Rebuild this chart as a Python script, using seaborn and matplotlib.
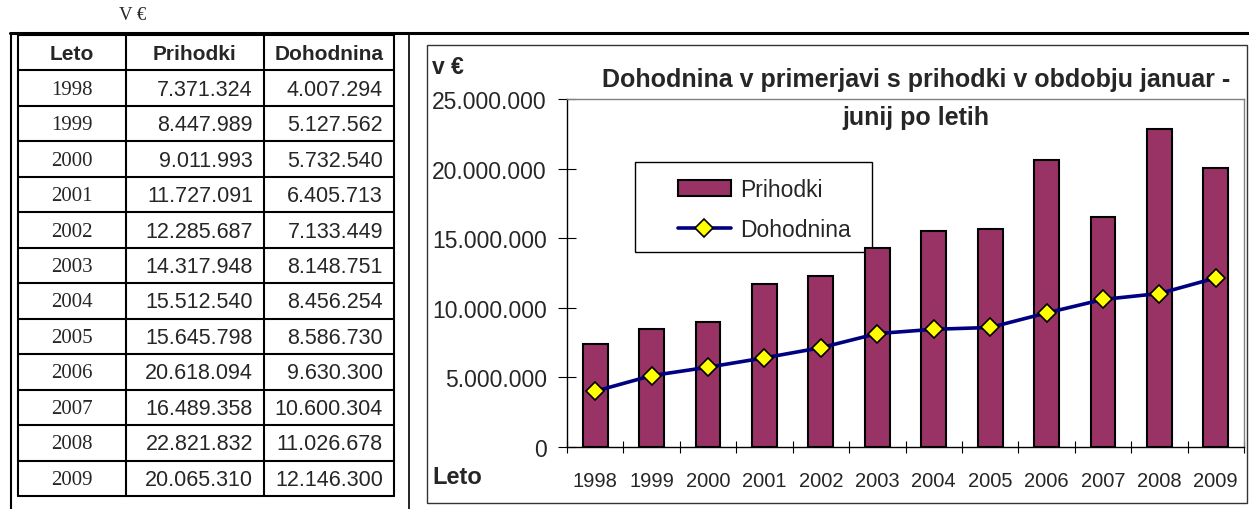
import matplotlib
matplotlib.use("Agg")
import matplotlib.pyplot as plt
from matplotlib.patches import Rectangle
from matplotlib.ticker import FuncFormatter, FixedLocator
import seaborn as sns
import numpy as np

years = ["1998", "1999", "2000", "2001", "2002", "2003",
         "2004", "2005", "2006", "2007", "2008", "2009"]
prihodki = [7371324, 8447989, 9011993, 11727091, 12285687, 14317948,
            15512540, 15645798, 20618094, 16489358, 22821832, 20065310]
dohodnina = [4007294, 5127562, 5732540, 6405713, 7133449, 8148751,
             8456254, 8586730, 9630300, 10600304, 11026678, 12146300]
y_ticks = [0, 5000000, 10000000, 15000000, 20000000, 25000000]
headers = ["Leto", "Prihodki", "Dohodnina"]

bar_color = "#993366"
line_color = "#000080"


def fmt(v):
    return f"{int(v):,}".replace(",", ".")


sns.set_theme(style="white")
plt.rcParams["font.family"] = ["Liberation Sans", "DejaVu Sans"]
serif = ["Liberation Serif", "DejaVu Serif"]

W, H = 1249, 510
fig = plt.figure(figsize=(W / 100, H / 100), dpi=100)

# pixel-coordinate overlay for frames and the table
bg = fig.add_axes([0, 0, 1, 1])
bg.set_xlim(0, W)
bg.set_ylim(H, 0)
bg.axis("off")

# outer frame lines
bg.plot([10, W], [34, 34], color="black", lw=2.2)
bg.plot([11, 11], [34, H], color="black", lw=1.5)
bg.plot([409, 409], [34, H], color="black", lw=1.2)
bg.text(133, 15, "V €", family=serif, fontsize=13.5, ha="center", va="center")

# table
col_x = [18, 126, 264, 394]
row_y = np.linspace(36, 497, len(years) + 2)
for x in col_x:
    bg.plot([x, x], [row_y[0], row_y[-1]], color="black", lw=1.5)
for y in row_y:
    bg.plot([col_x[0], col_x[-1]], [y, y], color="black", lw=1.5)
for j, h in enumerate(headers):
    bg.text((col_x[j] + col_x[j + 1]) / 2, (row_y[0] + row_y[1]) / 2 + 1, h,
            fontsize=15, fontweight="bold", ha="center", va="center")
for i, yr in enumerate(years):
    cy = (row_y[i + 1] + row_y[i + 2]) / 2 + 1
    bg.text((col_x[0] + col_x[1]) / 2, cy, yr, family=serif, fontsize=15,
            ha="center", va="center")
    bg.text(col_x[2] - 11, cy, fmt(prihodki[i]), fontsize=15.5,
            ha="right", va="center")
    bg.text(col_x[3] - 11, cy, fmt(dohodnina[i]), fontsize=15.5,
            ha="right", va="center")

# chart box
bg.add_patch(Rectangle((427, 46), 1247 - 427, 504 - 46, fill=False,
                       edgecolor="#333333", lw=1))

# chart
ax = fig.add_axes([567 / W, (H - 448) / H, (1244 - 567) / W, (448 - 100) / H])
sns.barplot(x=years, y=prihodki, color=bar_color, saturation=1, width=0.44,
            edgecolor="black", linewidth=1.5, label="Prihodki", ax=ax)
sns.lineplot(x=np.arange(len(years)), y=dohodnina, color=line_color,
             linewidth=2.6, marker="D", markersize=9.5,
             markerfacecolor="#FFFF00", markeredgecolor="black",
             markeredgewidth=1.2, label="Dohodnina", ax=ax)

ax.set_xlim(-0.5, len(years) - 0.5)
ax.set_ylim(0, 25000000)
ax.yaxis.set_major_locator(FixedLocator(y_ticks))
ax.yaxis.set_major_formatter(FuncFormatter(lambda v, p: fmt(v)))
ax.xaxis.set_minor_locator(FixedLocator(np.arange(len(years) + 1) - 0.5))
ax.tick_params(axis="y", which="major", direction="inout", length=13,
               width=0.8, color="black", pad=8, labelsize=16.5, left=True)
ax.tick_params(axis="x", which="major", length=0, pad=17, labelsize=14.5)
ax.tick_params(axis="x", which="minor", direction="inout", length=8.5,
               width=0.8, color="black", bottom=True)
ax.set_xlabel("")
ax.set_ylabel("")
for s in ["left", "bottom"]:
    ax.spines[s].set_color("black")
    ax.spines[s].set_linewidth(1)
for s in ["top", "right"]:
    ax.spines[s].set_color("#808080")
    ax.spines[s].set_linewidth(1)

# title and axis captions
bg.text(916, 80, "Dohodnina v primerjavi s prihodki v obdobju januar -",
        fontsize=18, fontweight="bold", ha="center", va="center")
bg.text(916, 118, "junij po letih", fontsize=18, fontweight="bold",
        ha="center", va="center")
bg.text(432, 68, "v €", fontsize=16.5, fontweight="bold", ha="left", va="center")
bg.text(432, 478, "Leto", fontsize=17, fontweight="bold", ha="left", va="center")

# legend with square frame
bg.add_patch(Rectangle((635, 163), 872 - 635, 253 - 163, facecolor="white",
                       edgecolor="black", lw=1, zorder=5))
handles, labels = ax.get_legend_handles_labels()
order = [labels.index("Prihodki"), labels.index("Dohodnina")]
leg = ax.legend([handles[k] for k in order], [labels[k] for k in order],
                loc="upper left", bbox_to_anchor=(662 / W, 1 - 163 / H),
                bbox_transform=fig.transFigure, frameon=False,
                fontsize=16.5, handlelength=2.3, handletextpad=0.4,
                labelspacing=0.75, borderpad=0.2)
leg.set_zorder(10)
bg.set_zorder(0)
ax.set_zorder(1)
ax.patch.set_alpha(0)

fig.savefig("out.png", dpi=100)
